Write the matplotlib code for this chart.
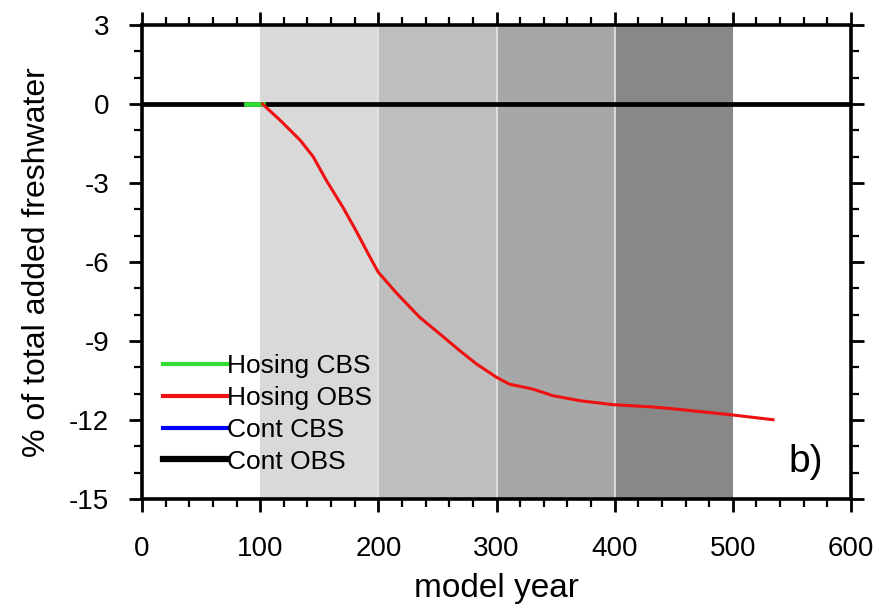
import numpy as np
import matplotlib
matplotlib.use('Agg')
import matplotlib.pyplot as plt
from matplotlib.ticker import MultipleLocator

plt.rcParams['font.family'] = ['Liberation Sans', 'DejaVu Sans']
plt.rcParams['axes.unicode_minus'] = False

# red curve: Hosing OBS
hos_obs_year = [102, 117, 134, 145, 156, 170, 181, 193, 200, 216, 235, 252, 269, 283,
                300, 311, 331, 348, 371, 399, 430, 444, 472, 498, 534]
hos_obs_val = [0, -0.62, -1.38, -2.01, -2.9, -3.92, -4.8, -5.82, -6.39, -7.21, -8.1, -8.73,
               -9.37, -9.87, -10.38, -10.64, -10.83, -11.08, -11.27, -11.42, -11.5, -11.55,
               -11.68, -11.8, -11.99]
# green: Hosing CBS (only the visible bit)
hos_cbs_year = [88, 102]
hos_cbs_val = [0, 0]
# controls stay at zero
cont_year = [0, 600]
cont_cbs_val = [0, 0]
cont_obs_val = [0, 0]

# shaded periods
band_start = [100, 200, 300, 400]
band_end = [200, 300, 400, 500]
band_color = ['#d9d9d9', '#bebebe', '#a7a7a7', '#888888']

fig = plt.figure(figsize=(8.89, 6.06), dpi=100)
ax = fig.add_axes([0.1597, 0.1766, 0.7976, 0.7821])

for s, e, c in zip(band_start, band_end, band_color):
    ax.axvspan(s, e, color=c, lw=0, zorder=0)
for s in band_start[1:]:
    ax.axvline(s, color='#e6e6e6', lw=1.2, zorder=0.5)

ax.plot(cont_year, cont_cbs_val, color='#0000ff', lw=2.2, label='Cont CBS', zorder=2)
ax.plot(cont_year, cont_obs_val, color='black', lw=3.4, label='Cont OBS', zorder=3)
ax.plot(hos_cbs_year, hos_cbs_val, color='#33dd33', lw=3.4, label='Hosing CBS', zorder=4)
ax.plot(hos_obs_year, hos_obs_val, color='#ee1111', lw=2.2, label='Hosing OBS', zorder=5)

h, l = ax.get_legend_handles_labels()
order = [2, 3, 0, 1]
leg = ax.legend([h[i] for i in order], [l[i] for i in order], loc='upper left',
                bbox_to_anchor=(0.03, 0.306), frameon=False, fontsize=19,
                handlelength=2.4, handletextpad=0.0, labelspacing=0.3,
                borderpad=0, borderaxespad=0)
for line in leg.get_lines():
    line.set_linewidth(3)
leg.get_lines()[3].set_linewidth(4.5)

ax.text(562, -13.6, 'b)', fontsize=28, ha='center', va='center')

ax.set_xlim(0, 600)
ax.set_ylim(-15, 3)
ax.set_xticks(range(0, 700, 100))
ax.set_yticks(range(-15, 6, 3))
ax.xaxis.set_minor_locator(MultipleLocator(20))
ax.yaxis.set_minor_locator(MultipleLocator(1))
ax.tick_params(which='both', direction='out', top=True, right=True, labelsize=20)
ax.tick_params(which='major', length=9.5, width=2)
ax.tick_params(which='minor', length=5.5, width=1.6)
ax.tick_params(axis='x', pad=17)
ax.tick_params(axis='y', pad=14)
for sp in ax.spines.values():
    sp.set_linewidth(2.6)

ax.set_xlabel('model year', fontsize=24, labelpad=8)
ax.set_ylabel('% of total added freshwater', fontsize=23, labelpad=12)

plt.savefig('out.png', dpi=100)
plt.close()
